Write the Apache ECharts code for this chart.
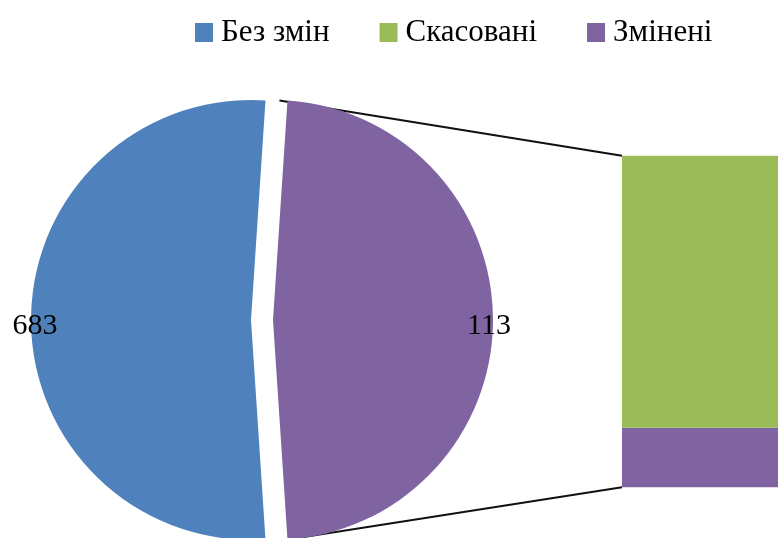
<!DOCTYPE html>
<html>
<head>
<meta charset="utf-8">
<script src="https://cdn.jsdelivr.net/npm/echarts@6/dist/echarts.min.js"></script>
<style>html,body{margin:0;padding:0;background:#fff}#c{width:778px;height:538px}</style>
</head>
<body>
<div id="c"></div>
<script>
// ---- data ----
var categories = ['Без змін', 'Скасовані', 'Змінені'];
var values = [683, 515, 113];
var colors = ['#4F81BD', '#9BBB59', '#8064A2'];
var otherName = 'Інші';

// ---- derived ----
var otherValue = values[1] + values[2];
var total = values[0] + otherValue;
var otherFrac = otherValue / total;
var startDeg = 180 * otherFrac;

var FONT = 'Liberation Serif, Times New Roman, serif';
var PIE_CX = 262, PIE_CY = 320, PIE_R = 220, OFFSET = 11;

var chart = echarts.init(document.getElementById('c'), null, {renderer: 'canvas'});

var option = {
  animation: false,
  backgroundColor: '#ffffff',
  legend: {
    left: 195, top: 17, padding: 0,
    itemWidth: 18, itemHeight: 19, itemGap: 50,
    icon: 'rect',
    selectedMode: false,
    data: categories,
    textStyle: {fontFamily: FONT, fontSize: 31, color: '#000', padding: [0, 0, 0, 3]}
  },
  grid: {left: 622, right: -200, top: 155.7, bottom: 50.7, containLabel: false},
  xAxis: {type: 'category', data: [''], show: false},
  yAxis: {type: 'value', min: 0, max: otherValue, show: false},
  series: [
    {
      type: 'pie',
      center: [PIE_CX, PIE_CY],
      radius: [0, PIE_R],
      startAngle: startDeg,
      clockwise: true,
      selectedMode: 'multiple',
      selectedOffset: OFFSET,
      emphasis: {disabled: true},
      avoidLabelOverlap: false,
      label: {
        show: true,
        position: 'outside',
        fontFamily: FONT, fontSize: 30, color: '#000',
        formatter: function (p) { return p.name === otherName ? String(values[2]) : String(p.value); }
      },
      labelLine: {show: false, length: 0, length2: 0},
      labelLayout: function (p) {
        var w = p.labelRect.width;
        return {dx: p.dataIndex === 1 ? (w / 2 + 9) : -(w / 2 + 9), dy: 6};
      },
      data: [
        {name: otherName, value: otherValue, selected: true, itemStyle: {color: colors[2]}},
        {name: categories[0], value: values[0], selected: true, itemStyle: {color: colors[0]}}
      ]
    },
    {
      type: 'bar', name: categories[2], stack: 'o', barWidth: '100%',
      itemStyle: {color: colors[2]}, emphasis: {disabled: true},
      data: [values[2]]
    },
    {
      type: 'bar', name: categories[1], stack: 'o', barWidth: '100%',
      itemStyle: {color: colors[1]}, emphasis: {disabled: true},
      data: [values[1]]
    }
  ]
};
chart.setOption(option);

// connector lines from the split-off slice to the bar
var rect = chart.getModel().getComponent('grid').coordinateSystem.getRect();
var yTop = chart.convertToPixel({gridIndex: 0}, [0, otherValue])[1];
var yBot = chart.convertToPixel({gridIndex: 0}, [0, 0])[1];
var a = startDeg * Math.PI / 180;
var px = PIE_CX + OFFSET + PIE_R * Math.cos(a);
var pyTop = PIE_CY - PIE_R * Math.sin(a);
var pyBot = PIE_CY + PIE_R * Math.sin(a);
chart.setOption({
  graphic: [
    {type: 'line', silent: true, shape: {x1: px - 8, y1: pyTop, x2: rect.x, y2: yTop}, style: {stroke: '#111', lineWidth: 2}},
    {type: 'line', silent: true, shape: {x1: px, y1: pyBot, x2: rect.x, y2: yBot}, style: {stroke: '#111', lineWidth: 2}}
  ]
});
</script>
</body>
</html>
